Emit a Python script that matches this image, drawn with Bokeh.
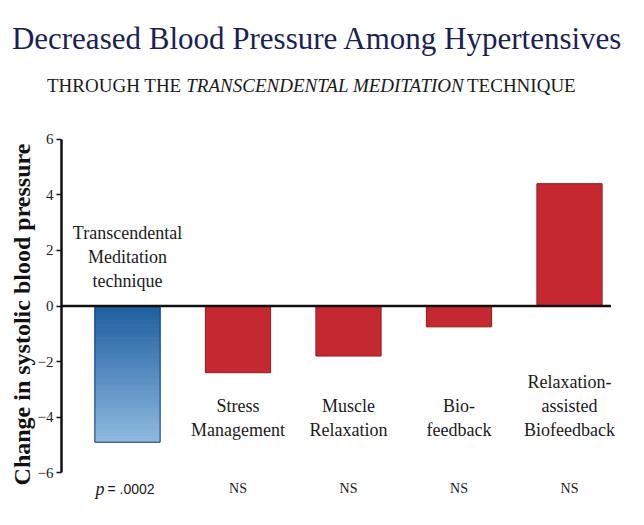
from bokeh.plotting import figure
from bokeh.layouts import column
from bokeh.models import Range1d, LinearAxis, Label, FixedTicker
from bokeh.embed import file_html
from bokeh.resources import INLINE

# ---- data ----
categories = ["Transcendental\nMeditation\ntechnique", "Stress\nManagement",
              "Muscle\nRelaxation", "Bio-\nfeedback", "Relaxation-\nassisted\nBiofeedback"]
changes = [-4.9, -2.4, -1.8, -0.75, 4.4]
significance = ["= .0002", "NS", "NS", "NS", "NS"]
y_ticks = [-6, -4, -2, 0, 2, 4, 6]
title_text = "Decreased Blood Pressure Among Hypertensives"
subtitle_parts = ["THROUGH THE", "TRANSCENDENTAL MEDITATION", "TECHNIQUE"]
y_label = "Change in systolic blood pressure"

# ---- layout (canvas pixels) ----
W, H = 628, 509
TOP_H = 119       # height of title strip
FL = 61           # frame left
XPX = 110.5       # px per category
X0 = -(127 - FL) / XPX
YPX = 27.8        # px per mmHg
ZY = 305.5        # canvas y of zero


def dx(cx):
    return X0 + (cx - FL) / XPX


def dy(cy):
    return (ZY - cy) / YPX


SERIF = "Liberation Serif"

# ---- title strip ----
t = figure(width=W, height=TOP_H, output_backend="svg", toolbar_location=None,
           x_range=Range1d(0, W), y_range=Range1d(TOP_H, 0),
           x_axis_location=None, y_axis_location=None,
           min_border_left=0, min_border_right=0, min_border_top=0, min_border_bottom=0)
t.frame_align = False
t.grid.visible = False
t.outline_line_color = None
t.add_layout(Label(x=317, y=38, text=title_text, text_align="center",
                   text_baseline="alphabetic", text_font=SERIF, text_font_size="31px",
                   text_color="#1b1f55"))
sub_x = [46.5, 185.8, 466.5]
sub_style = ["normal", "italic", "normal"]
for part, sx, st in zip(subtitle_parts, sub_x, sub_style):
    t.add_layout(Label(x=sx, y=85, text=part, text_align="left",
                       text_baseline="alphabetic", text_font=SERIF, text_font_style=st,
                       text_font_size="19px", text_color="#1a1a1a"))

# ---- main chart ----
p = figure(width=W, height=H - TOP_H, output_backend="svg", toolbar_location=None,
           x_range=Range1d(dx(FL), dx(W)), y_range=Range1d(dy(H), dy(TOP_H)),
           x_axis_location=None, y_axis_location=None,
           min_border_left=FL, min_border_right=0, min_border_top=0, min_border_bottom=0)
p.frame_align = False
p.grid.visible = False
p.outline_line_color = None

yaxis = LinearAxis(ticker=FixedTicker(ticks=y_ticks), bounds=(min(y_ticks), max(y_ticks)))
yaxis.axis_line_width = 2.5
yaxis.axis_line_color = "#111111"
yaxis.major_tick_line_width = 1.5
yaxis.major_tick_line_color = "#111111"
yaxis.major_tick_out = 5
yaxis.major_tick_in = 0
yaxis.minor_tick_line_color = None
yaxis.major_label_standoff = 3
yaxis.major_label_text_font = SERIF
yaxis.major_label_text_font_size = "15px"
yaxis.major_label_text_color = "#222222"
yaxis.axis_label = y_label
yaxis.axis_label_text_font = SERIF
yaxis.axis_label_text_font_style = "bold"
yaxis.axis_label_text_font_size = "24px"
yaxis.axis_label_text_color = "#111111"
yaxis.axis_label_standoff = 0
p.add_layout(yaxis, "left")

# bars
BW = 0.59
top_rgb = (30, 94, 160)
bot_rgb = (142, 186, 223)
N = 48
for i, v in enumerate(changes):
    if i == 0:
        for k in range(N):
            t0 = v * k / N
            t1 = v * (k + 1) / N
            f = (k + 0.5) / N
            c = "#%02x%02x%02x" % tuple(int(round(top_rgb[j] + (bot_rgb[j] - top_rgb[j]) * f))
                                         for j in range(3))
            p.quad(left=[i - BW / 2], right=[i + BW / 2], top=[t0], bottom=[t1],
                   fill_color=c, line_color=c, line_width=1)
        p.quad(left=[i - BW / 2], right=[i + BW / 2], top=[0], bottom=[v],
               fill_color=None, line_color="#1c3f78", line_width=1)
    else:
        p.quad(left=[i - BW / 2], right=[i + BW / 2], top=[max(v, 0)], bottom=[min(v, 0)],
               fill_color="#c6282f", line_color="#8e1a1e", line_width=1)

# zero line
p.line(x=[dx(FL), len(changes) - 1 + 0.375], y=[0, 0], line_color="#111111", line_width=2.5)

# category labels
LH = 1.2
STEP = 25
for i, (cat, v) in enumerate(zip(categories, changes)):
    n = cat.count("\n") + 1
    if i == 0:
        mid = 256
    else:
        mid = 430 - (n - 1) * STEP / 2
    p.add_layout(Label(x=i, y=dy(mid), text=cat, text_align="center", text_baseline="middle",
                       text_font=SERIF, text_font_size="18px", text_color="#1a1a1a",
                       text_line_height=LH))

# significance row
for i, s in enumerate(significance):
    if s.startswith("="):
        p.add_layout(Label(x=i, y=dy(488), x_offset=-23, text="p", text_align="right",
                           text_baseline="middle", text_font=SERIF, text_font_style="italic",
                           text_font_size="18px", text_color="#1a1a1a"))
        p.add_layout(Label(x=i, y=dy(488), x_offset=-20, text=s, text_align="left",
                           text_baseline="middle", text_font="Liberation Sans",
                           text_font_size="14px", text_color="#1a1a1a"))
    else:
        p.add_layout(Label(x=i, y=dy(488), text=s, text_align="center", text_baseline="middle",
                           text_font=SERIF, text_font_size="14px", text_color="#1a1a1a"))

layout = column(t, p, spacing=0)
open("out.html", "w").write(file_html(layout, INLINE))
